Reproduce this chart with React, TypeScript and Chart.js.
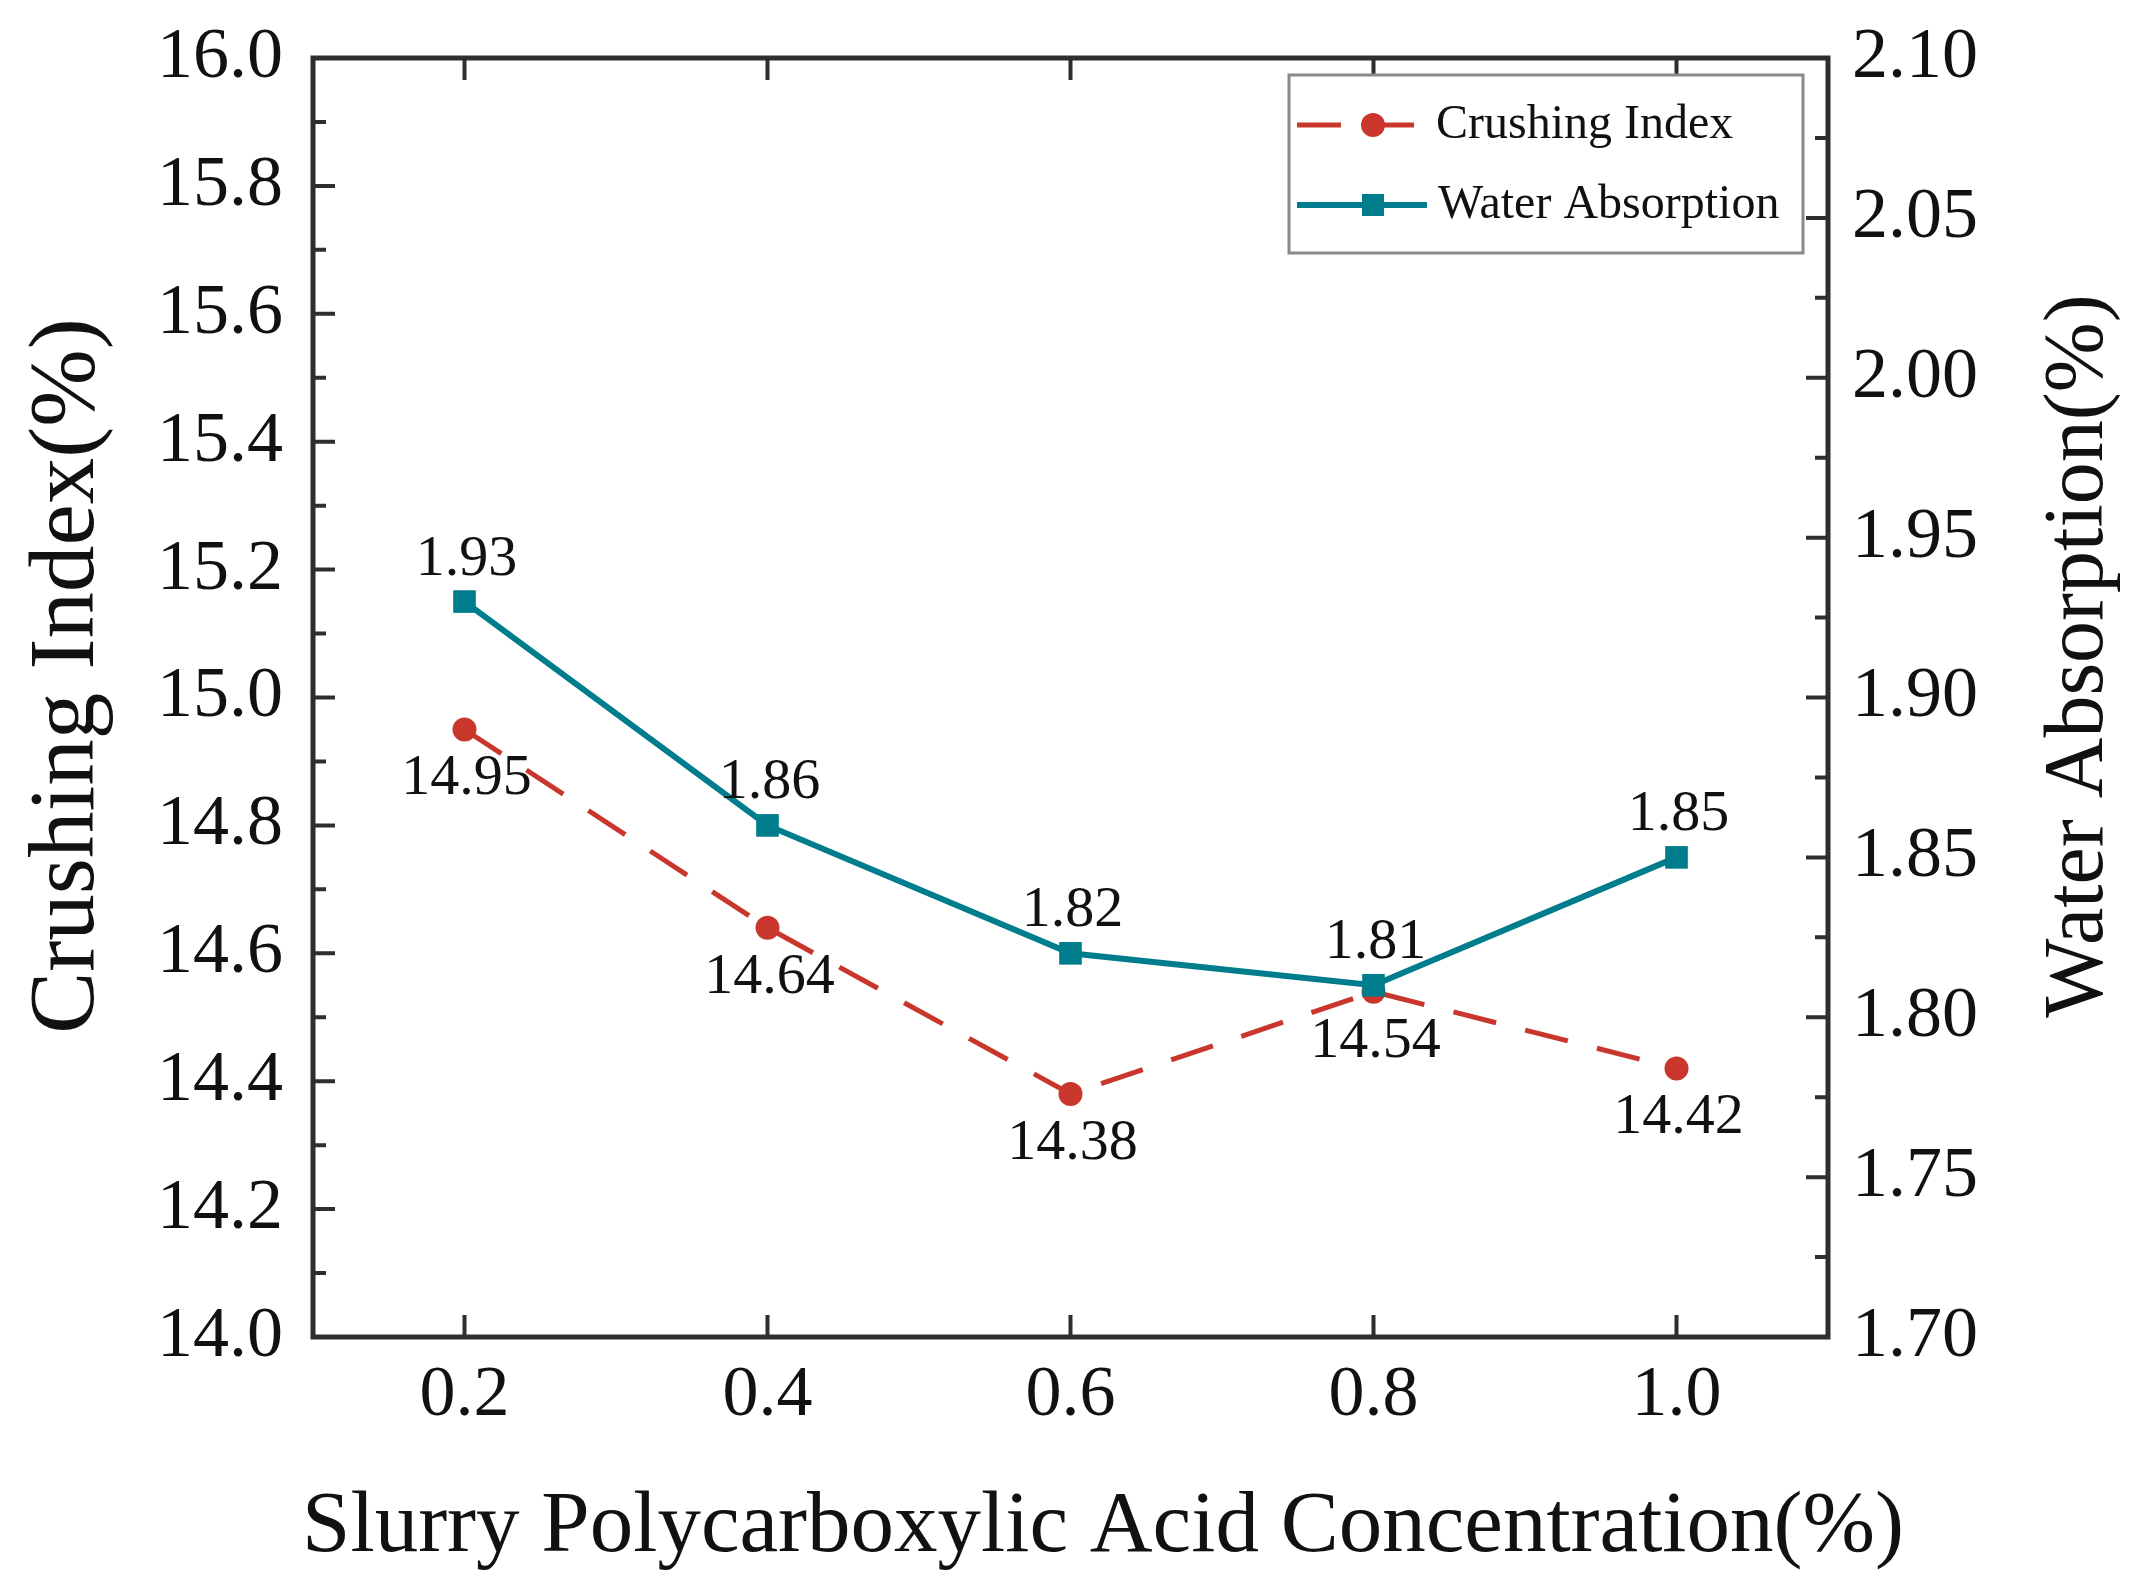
import { useEffect, useRef } from "react";
import { Chart, registerables, type Plugin } from "chart.js";

Chart.register(...registerables);

// data
const concentrations = ["0.2", "0.4", "0.6", "0.8", "1.0"];
const crushingIndex = [14.95, 14.64, 14.38, 14.54, 14.42];
const waterAbsorption = [1.93, 1.86, 1.82, 1.81, 1.85];

const RED = "#c9372c";
const TEAL = "#007d8c";
const AXIS = "#2e2e2e";
const SERIF = "'Liberation Serif', 'Times New Roman', serif";

// frame, inward ticks, titles, point labels and boxed legend
const decorations: Plugin<"line"> = {
  id: "decorations",
  beforeDatasetsDraw(chart) {
    const { ctx, chartArea: a, scales } = chart;
    const x = scales.x;
    const yl = scales.y;
    const yr = scales.y1;
    ctx.save();
    ctx.strokeStyle = AXIS;
    ctx.lineWidth = 4;
    ctx.beginPath();
    // left axis: major 0.2, minor 0.1
    for (let i = 0; i <= 20; i++) {
      const py = yl.getPixelForValue(14 + i * 0.1);
      const len = i % 2 === 0 ? 22 : 13;
      ctx.moveTo(a.left, py);
      ctx.lineTo(a.left + len, py);
    }
    // right axis: major 0.05, minor 0.025
    for (let i = 0; i <= 16; i++) {
      const py = yr.getPixelForValue(1.7 + i * 0.025);
      const len = i % 2 === 0 ? 22 : 13;
      ctx.moveTo(a.right, py);
      ctx.lineTo(a.right - len, py);
    }
    // bottom and top ticks at categories
    concentrations.forEach((_, i) => {
      const px = x.getPixelForValue(i);
      ctx.moveTo(px, a.bottom);
      ctx.lineTo(px, a.bottom - 22);
      ctx.moveTo(px, a.top);
      ctx.lineTo(px, a.top + 22);
    });
    ctx.stroke();
    ctx.lineWidth = 5;
    ctx.strokeRect(a.left, a.top, a.right - a.left, a.bottom - a.top);
    ctx.restore();
  },
  afterDraw(chart) {
    const { ctx, scales } = chart;
    const x = scales.x;
    const yl = scales.y;
    const yr = scales.y1;
    ctx.save();
    ctx.fillStyle = "#111";

    // axis titles
    ctx.textAlign = "center";
    ctx.textBaseline = "middle";
    ctx.font = `87px ${SERIF}`;
    ctx.fillText("Slurry Polycarboxylic Acid Concentration(%)", 1103, 1528);
    ctx.save();
    ctx.font = `93px ${SERIF}`;
    ctx.translate(69, 676);
    ctx.rotate(-Math.PI / 2);
    ctx.fillText("Crushing Index(%)", 0, 0);
    ctx.restore();
    ctx.save();
    ctx.font = `84px ${SERIF}`;
    ctx.translate(2080, 656);
    ctx.rotate(-Math.PI / 2);
    ctx.fillText("Water Absorption(%)", 0, 0);
    ctx.restore();

    // value labels
    ctx.font = `58px ${SERIF}`;
    ctx.textBaseline = "alphabetic";
    waterAbsorption.forEach((v, i) => {
      const px = x.getPixelForValue(i);
      const py = yr.getPixelForValue(v);
      ctx.fillText(v.toFixed(2), px + 2, py - 27);
    });
    crushingIndex.forEach((v, i) => {
      const px = x.getPixelForValue(i);
      const py = yl.getPixelForValue(v);
      ctx.fillText(v.toFixed(2), px + 2, py + 65);
    });

    // legend box
    const bx = 1289, by = 75, bw = 514, bh = 178;
    ctx.fillStyle = "#fff";
    ctx.fillRect(bx, by, bw, bh);
    ctx.strokeStyle = "#8a8a8a";
    ctx.lineWidth = 3;
    ctx.strokeRect(bx, by, bw, bh);

    const row1 = 125;
    const row2 = 205;
    ctx.lineWidth = 5;
    ctx.strokeStyle = RED;
    ctx.setLineDash([44, 30]);
    ctx.beginPath();
    ctx.moveTo(1297, row1);
    ctx.lineTo(1414, row1);
    ctx.stroke();
    ctx.setLineDash([]);
    ctx.fillStyle = RED;
    ctx.beginPath();
    ctx.arc(1373, row1, 12, 0, Math.PI * 2);
    ctx.fill();

    ctx.lineWidth = 6;
    ctx.strokeStyle = TEAL;
    ctx.beginPath();
    ctx.moveTo(1297, row2);
    ctx.lineTo(1427, row2);
    ctx.stroke();
    ctx.fillStyle = TEAL;
    ctx.fillRect(1373 - 11, row2 - 11, 22, 22);

    ctx.fillStyle = "#111";
    ctx.font = `48px ${SERIF}`;
    ctx.textAlign = "left";
    ctx.textBaseline = "middle";
    ctx.fillText("Crushing Index", 1436, row1);
    ctx.fillText("Water Absorption", 1438, row2);
    ctx.restore();
  },
};

export default function App() {
  const canvasRef = useRef<HTMLCanvasElement | null>(null);

  useEffect(() => {
    document.body.style.margin = "0";
    document.body.style.overflow = "hidden";
    if (!canvasRef.current) return;

    const tickFont = { family: SERIF, size: 72 };

    const chart = new Chart(canvasRef.current, {
      type: "line",
      data: {
        labels: concentrations,
        datasets: [
          {
            label: "Crushing Index",
            data: crushingIndex,
            yAxisID: "y",
            order: 1,
            borderColor: RED,
            backgroundColor: RED,
            borderWidth: 5,
            borderDash: [44, 30],
            pointStyle: "circle",
            pointRadius: 12,
            pointBorderWidth: 0,
            pointBackgroundColor: RED,
            tension: 0,
          },
          {
            label: "Water Absorption",
            data: waterAbsorption,
            yAxisID: "y1",
            order: 0,
            borderColor: TEAL,
            backgroundColor: TEAL,
            borderWidth: 6,
            pointStyle: "rect",
            pointRadius: 16,
            pointBorderWidth: 0,
            pointBackgroundColor: TEAL,
            tension: 0,
          },
        ],
      },
      options: {
        animation: false,
        responsive: true,
        maintainAspectRatio: false,
        devicePixelRatio: 1,
        layout: { padding: { top: 58, left: 0, right: 0, bottom: 0 } },
        plugins: {
          legend: { display: false },
          tooltip: { enabled: false },
        },
        scales: {
          x: {
            type: "category",
            offset: true,
            grid: { display: false, drawTicks: false },
            border: { display: false },
            ticks: { font: tickFont, color: "#111", padding: 16, maxRotation: 0 },
            afterFit: scale => {
              scale.height = 258;
              scale.paddingLeft = 0;
              scale.paddingRight = 0;
            },
          },
          y: {
            position: "left",
            min: 14,
            max: 16,
            grid: { display: false, drawTicks: false },
            border: { display: false },
            ticks: {
              stepSize: 0.2,
              font: tickFont,
              color: "#111",
              padding: 30,
              callback: v => Number(v).toFixed(1),
            },
            afterFit: scale => {
              scale.width = 313;
              scale.paddingTop = 0;
              scale.paddingBottom = 0;
            },
          },
          y1: {
            position: "right",
            min: 1.7,
            max: 2.1,
            grid: { display: false, drawTicks: false },
            border: { display: false },
            ticks: {
              stepSize: 0.05,
              font: tickFont,
              color: "#111",
              padding: 24,
              callback: v => Number(v).toFixed(2),
            },
            afterFit: scale => {
              scale.width = 321;
              scale.paddingTop = 0;
              scale.paddingBottom = 0;
            },
          },
        },
      },
      plugins: [decorations],
    });

    return () => {
      chart.destroy();
    };
  }, []);

  return (
    <div style={{ width: 2149, height: 1595, position: "relative", background: "#fff" }}>
      <canvas ref={canvasRef} />
    </div>
  );
}
